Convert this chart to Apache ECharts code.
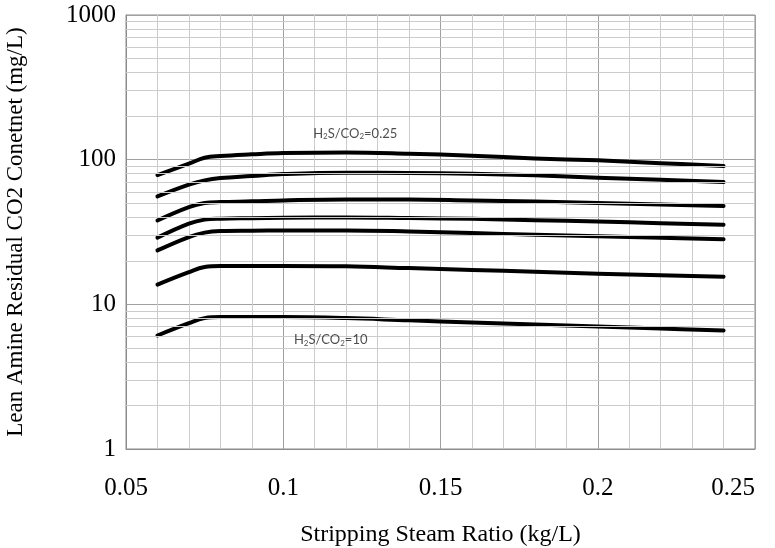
<!DOCTYPE html>
<html>
<head>
<meta charset="utf-8">
<script src="https://cdn.jsdelivr.net/npm/echarts@6/dist/echarts.min.js"></script>
<style>
  html, body { margin: 0; padding: 0; background: #ffffff; }
  #chart { width: 775px; height: 548px; }
</style>
</head>
<body>
<div id="chart"></div>
<script>
// Stripping steam ratio (kg/L) at which each curve is read
const steamRatio = [0.06, 0.07, 0.075, 0.08, 0.09, 0.1, 0.12, 0.14, 0.16, 0.18, 0.2, 0.22, 0.24];

// Lean amine residual CO2 content (mg/L), one array per H2S/CO2 ratio, top to bottom
const curve1 = [78.3, 93.8, 103, 105.9, 108.8, 111.1, 112.3, 110.0, 106.5, 102.0, 98.9, 94.6, 90.3]; // H2S/CO2 = 0.25
const curve2 = [55.7, 67.2, 71.9, 74.6, 77.0, 79.5, 81.3, 80.8, 79.8, 78.0, 75.1, 72.5, 70.0];
const curve3 = [38.0, 47.0, 50.1, 50.9, 51.5, 52.3, 53.1, 53.0, 52.2, 51.4, 50.1, 49.0, 47.8];
const curve4 = [28.9, 36.1, 38.5, 39.1, 39.4, 39.7, 39.9, 39.5, 39.0, 38.2, 37.4, 36.4, 35.5];
const curve5 = [23.6, 29.2, 31.3, 32.1, 32.3, 32.4, 32.4, 31.9, 31.1, 30.3, 29.6, 28.9, 28.2];
const curve6 = [13.7, 16.7, 18.1, 18.4, 18.4, 18.4, 18.3, 17.8, 17.3, 16.8, 16.3, 15.9, 15.5];
const curve7 = [6.09, 7.41, 8.03, 8.16, 8.16, 8.16, 8.03, 7.75, 7.50, 7.25, 7.03, 6.80, 6.60]; // H2S/CO2 = 10

const curveNames = ['H2S/CO2=0.25', 'curve 2', 'curve 3', 'curve 4', 'curve 5', 'curve 6', 'H2S/CO2=10'];
const curves = [curve1, curve2, curve3, curve4, curve5, curve6, curve7];

// Annotation anchors [x, y] and their rich-text content
const labelTop = { at: [0.1095, 152], text: '{a|H}{b|2}{a|S/CO}{b|2}{a|=0.25}' };
const labelBottom = { at: [0.1034, 5.69], text: '{a|H}{b|2}{a|S/CO}{b|2}{a|=10}' };

// Log-scale minor gridlines (2..9 in each decade)
const minorY = [2, 3, 4, 5, 6, 7, 8, 9, 20, 30, 40, 50, 60, 70, 80, 90, 200, 300, 400, 500, 600, 700, 800, 900];

const serif = '"Liberation Serif", "Times New Roman", serif';
const richStyles = {
  a: { fontFamily: 'Lato, "Open Sans", sans-serif', fontSize: 13, color: '#222' },
  b: { fontFamily: 'Lato, "Open Sans", sans-serif', fontSize: 8, color: '#222', verticalAlign: 'bottom', padding: [7, 0, 0, 0] }
};

const chart = echarts.init(document.getElementById('chart'), null, { renderer: 'canvas' });

const series = curves.map((vals, i) => ({
  name: curveNames[i],
  type: 'line',
  data: steamRatio.map((x, j) => [x, vals[j]]),
  smooth: 0.4,
  showSymbol: false,
  symbol: 'none',
  lineStyle: { color: '#000', width: 4, cap: 'round', join: 'round' },
  z: 4,
  animation: false
}));

series.push({
  name: 'minor grid',
  type: 'line',
  data: [],
  z: 1,
  silent: true,
  markLine: {
    silent: true,
    symbol: ['none', 'none'],
    animation: false,
    label: { show: false },
    lineStyle: { color: '#cccccc', width: 1, type: 'solid' },
    emphasis: { disabled: true },
    data: minorY.map(v => ({ yAxis: v }))
  }
});

series.push({
  name: 'annotations',
  type: 'scatter',
  symbolSize: 0,
  silent: true,
  z: 5,
  animation: false,
  data: [
    { value: labelTop.at, label: { formatter: labelTop.text } },
    { value: labelBottom.at, label: { formatter: labelBottom.text } }
  ],
  label: { show: true, position: 'right', distance: 0, rich: richStyles }
});

chart.setOption({
  backgroundColor: '#ffffff',
  animation: false,
  grid: {
    left: 126, right: 20, top: 15, bottom: 99,
    outerBoundsMode: 'none',
    containLabel: false,
    show: true, borderColor: '#8c8c8c', borderWidth: 1, backgroundColor: 'transparent'
  },
  xAxis: {
    type: 'value',
    min: 0.05, max: 0.25, interval: 0.05,
    name: 'Stripping Steam Ratio (kg/L)',
    nameLocation: 'middle',
    nameGap: 74,
    nameTextStyle: { fontFamily: serif, fontSize: 24, color: '#000' },
    axisLine: { show: true, lineStyle: { color: '#8c8c8c' } },
    axisTick: { show: false },
    minorTick: { show: false, splitNumber: 5 },
    axisLabel: {
      fontFamily: serif, fontSize: 25, color: '#000', margin: 27,
      alignMaxLabel: 'right',
      formatter: v => String(+v.toFixed(2))
    },
    splitLine: { show: true, lineStyle: { color: '#a0a0a0', width: 1 } },
    minorSplitLine: { show: true, lineStyle: { color: '#cccccc', width: 1 } }
  },
  yAxis: {
    type: 'log',
    logBase: 10,
    min: 1, max: 1000,
    name: 'Lean Amine Residual CO2 Conetnet (mg/L)',
    nameLocation: 'middle',
    nameGap: 99,
    nameTextStyle: { fontFamily: serif, fontSize: 23, color: '#000' },
    axisLine: { show: true, lineStyle: { color: '#8c8c8c' } },
    axisTick: { show: false },
    axisLabel: { fontFamily: serif, fontSize: 25, color: '#000', margin: 10, formatter: v => String(Math.round(v)) },
    splitLine: { show: true, lineStyle: { color: '#a0a0a0', width: 1 } }
  },
  series: series
});
</script>
</body>
</html>
